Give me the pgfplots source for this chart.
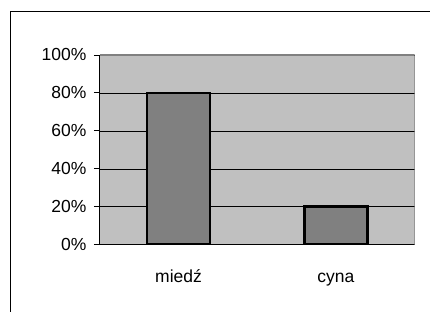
\documentclass[border=0pt]{standalone}
\usepackage{pgfplots}
\pgfplotsset{compat=1.18}
\usepackage{fontspec}
\setmainfont{Liberation Sans}
\definecolor{plotbg}{HTML}{C0C0C0}
\definecolor{barfill}{HTML}{808080}
\begin{document}
\begin{tikzpicture}[x=1pt,y=1pt]
\fill[white] (0,0) rectangle (430,312);
\draw[line width=1pt] (10.5,0) -- (10.5,300.5) -- (430,300.5);
\begin{axis}[
  at={(100pt,67pt)}, anchor=south west,
  scale only axis, width=315pt, height=190pt,
  xmin=-0.5, xmax=1.5, ymin=0, ymax=100,
  axis x line*=bottom, axis y line*=left,
  axis line style={black, line width=0.8pt},
  axis background/.style={fill=plotbg},
  ytick={0,20,40,60,80,100},
  yticklabels={0\%,20\%,40\%,60\%,80\%,100\%},
  ymajorgrids, grid style={black, line width=0.6pt},
  xtick={0,1}, xticklabels={miedź,cyna},
  x tick style={draw=none},
  extra x ticks={-0.5,0.5,1.5}, extra x tick labels={},
  extra x tick style={tick style={draw=black, line width=0.8pt}, major tick length=5pt, grid=none},
  tick align=outside, major tick length=6pt,
  y tick style={black, line width=0.8pt},
  ticklabel style={font=\fontsize{17.5}{20}\selectfont},
  yticklabel style={xshift=-4pt},
  xticklabel style={anchor=base, yshift=-32pt},
  ybar, bar width=63pt,
]
\addplot[draw=black, fill=barfill, line width=2.6pt] coordinates {(0,80) (1,20)};
\draw[color=barfill, line width=1.2pt] (rel axis cs:0,1) -- (rel axis cs:1,1) -- (rel axis cs:1,0);
\end{axis}
\end{tikzpicture}
\end{document}
